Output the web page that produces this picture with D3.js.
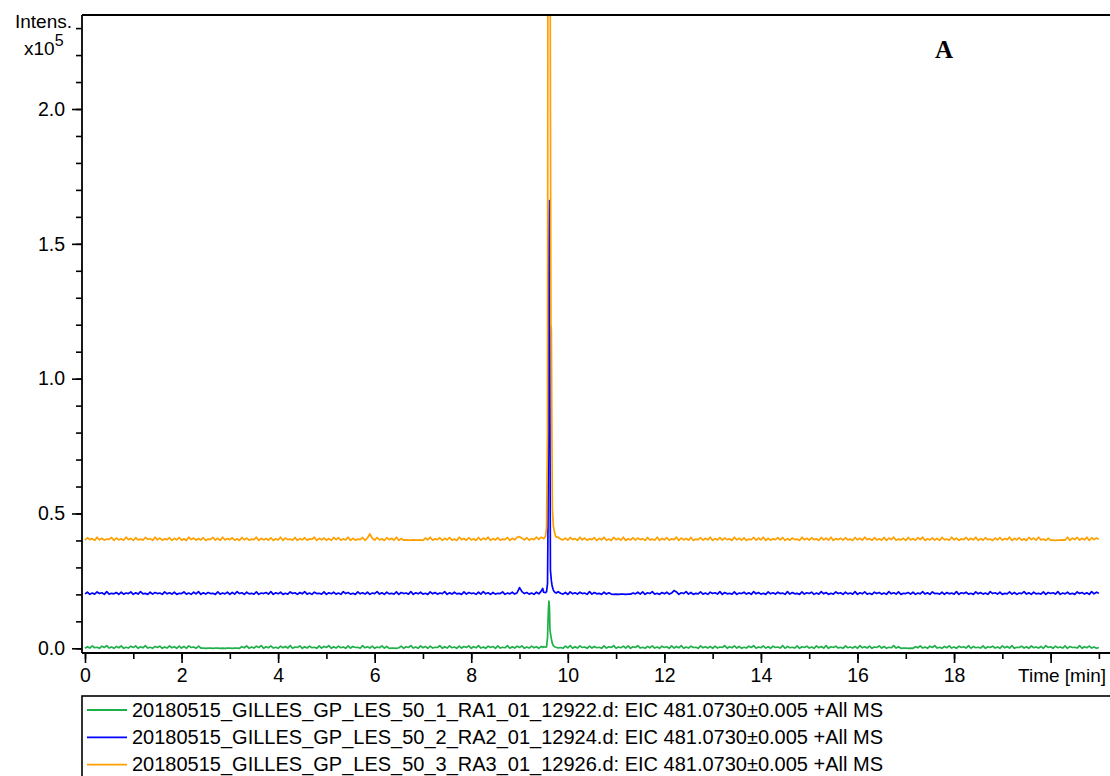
<!DOCTYPE html>
<html>
<head>
<meta charset="utf-8">
<script src="https://cdn.jsdelivr.net/npm/d3@7"></script>
<style>
  body { margin: 0; background: #fff; }
  text { font-family: "Liberation Sans", Arial, sans-serif; fill: #000; }
</style>
</head>
<body>
<svg id="chart" width="1110" height="776"></svg>
<script>
// trace labels / colours, same order as the legend
var traceNames = [
  '20180515_GILLES_GP_LES_50_1_RA1_01_12922.d: EIC 481.0730\u00b10.005 +All MS',
  '20180515_GILLES_GP_LES_50_2_RA2_01_12924.d: EIC 481.0730\u00b10.005 +All MS',
  '20180515_GILLES_GP_LES_50_3_RA3_01_12926.d: EIC 481.0730\u00b10.005 +All MS'
];
var traceColors = ['#1fb04a', '#0000ff', '#ffa000'];
var traceOffsets = [0, 0.2, 0.4];   // stacked display offset, x10^5

// baseline scans, one value per 0.05 min from 0.0 to 21.0 min (units: 100 counts)
// one row = one minute
var scanStart = 0, scanStep = 0.05;
var greenScan = [
  0,6,1,9,2,4,0,8,3,10,1,5,0,7,2,9,0,4,1,8,
  3,9,0,6,2,10,1,4,0,7,3,8,0,5,1,9,2,6,0,8,
  1,7,0,9,3,5,0,8,1,1,0,1,1,0,1,1,0,1,0,1,
  1,0,1,1,0,6,2,9,0,5,1,8,3,10,0,6,2,9,1,4,
  0,8,2,7,1,10,0,5,3,9,0,6,1,8,2,4,0,9,1,7,
  3,10,0,6,1,8,2,5,0,9,1,7,3,4,0,10,2,6,1,8,
  0,5,2,9,1,7,0,1,1,0,2,8,0,6,3,10,1,5,0,9,
  2,7,0,8,1,4,3,10,0,6,1,9,2,5,0,8,1,7,3,9,
  0,6,2,10,1,5,0,8,3,7,0,9,1,4,2,10,0,6,1,8,
  3,9,0,5,1,8,2,6,0,7,1,4,1,5,2,6,1,3,0,8,
  2,10,0,6,1,9,3,5,0,8,1,7,2,4,0,9,1,6,3,10,
  0,5,2,8,1,9,0,6,3,10,1,4,0,7,2,9,1,5,0,8,
  3,6,0,9,1,7,2,10,0,5,1,8,3,4,0,9,2,6,1,7,
  0,8,1,5,3,10,0,6,2,9,1,7,0,4,1,8,3,10,0,5,
  2,9,1,6,0,8,3,5,1,10,0,7,2,4,1,9,0,6,3,8,
  1,5,0,9,2,7,1,10,0,6,3,8,1,4,0,9,2,5,1,7,
  0,10,2,6,1,8,0,5,3,9,1,7,0,4,2,10,1,6,0,1,
  1,0,1,0,6,2,9,1,5,0,8,3,10,1,4,0,7,2,9,1,
  5,0,8,3,6,1,10,0,7,2,4,1,9,0,6,3,8,1,5,0,
  9,2,7,1,10,0,4,3,8,1,6,0,9,2,5,1,7,0,10,3,
  6,0,8,2,5,1,9,0,7,3,4,1,10,0,6,2,8,1,5,0,
  3
];
var blueScan = [
  2,8,0,5,1,9,3,6,0,10,1,4,2,7,0,8,1,5,3,9,
  0,6,1,10,2,4,0,8,1,7,3,5,0,9,2,6,1,8,0,4,
  3,9,1,5,0,8,2,10,0,6,1,7,3,4,0,9,1,5,2,8,
  0,7,1,10,3,6,0,8,2,4,1,9,0,5,3,7,1,10,0,6,
  2,8,0,4,1,9,3,6,0,7,2,10,1,5,0,8,3,4,1,9,
  0,6,2,8,1,5,0,10,3,7,1,4,0,9,2,6,1,8,0,5,
  3,10,1,6,0,8,2,4,1,9,0,7,3,5,1,10,0,6,2,8,
  1,4,0,9,2,7,1,5,3,10,0,6,1,8,2,4,0,9,1,7,
  3,5,0,8,1,10,2,6,0,7,1,4,3,9,0,5,2,8,1,6,
  25,10,3,7,1,5,0,8,2,12,6,5,5,5,5,5,10,4,1,7,
  0,9,2,6,1,8,3,5,0,10,1,7,2,4,0,8,1,6,1,0,
  1,0,1,1,0,1,1,5,2,8,1,9,0,6,3,10,1,4,0,7,
  2,8,1,5,14,9,0,6,3,10,1,7,0,4,2,9,1,5,0,8,
  3,6,1,10,0,7,2,4,1,9,0,5,3,8,1,6,0,10,2,7,
  1,4,0,9,2,6,1,8,3,5,0,10,1,7,2,4,0,9,1,6,
  3,8,0,5,1,10,2,7,0,4,1,9,3,6,0,8,2,5,1,10,
  0,6,2,9,1,4,0,8,3,7,1,5,0,10,2,6,1,9,0,4,
  3,7,1,8,0,5,2,10,1,6,0,9,3,4,1,8,0,7,2,5,
  1,10,0,6,3,8,1,4,0,9,2,7,1,5,0,10,3,6,1,8,
  0,4,2,9,1,7,0,5,3,10,1,6,0,8,2,4,1,9,0,7,
  3,6,1,10,0,5,2,8,1,4,0,9,3,7,1,6,0,10,2,8,
  4
];
var orangeScan = [
  1,10,3,7,0,12,2,8,1,5,4,11,0,9,2,6,1,12,3,8,
  0,10,2,5,1,11,4,7,0,12,2,9,1,6,3,10,0,8,2,11,
  1,6,0,12,3,9,1,7,2,10,0,5,4,11,1,8,0,12,2,7,
  3,10,1,6,0,11,2,9,1,5,3,12,0,8,2,7,1,10,0,6,
  2,12,0,9,3,5,1,11,0,7,2,10,1,6,4,12,0,8,2,9,
  1,7,0,11,3,10,1,6,2,12,0,8,1,5,3,11,0,9,24,8,
  1,11,2,6,0,10,3,8,1,12,0,7,1,2,1,1,2,1,1,2,
  0,9,2,12,1,6,3,10,0,8,2,11,1,5,0,12,3,7,1,10,
  2,6,0,11,1,9,3,12,0,7,2,10,1,5,3,11,0,8,2,12,
  14,8,2,10,1,7,3,12,4,12,8,8,8,8,8,8,12,5,2,9,
  1,11,3,7,0,12,2,9,1,6,3,10,0,8,2,12,1,5,0,11,
  3,8,1,12,0,6,2,10,1,9,3,7,0,11,2,5,1,12,0,8,
  2,10,1,6,3,12,0,9,2,7,1,11,0,5,3,10,1,8,2,12,
  0,7,2,11,1,9,3,6,0,12,2,8,1,10,0,5,3,11,1,9,
  2,12,0,8,1,6,3,10,2,11,0,7,1,9,3,5,0,12,2,8,
  1,10,3,6,0,11,2,9,1,12,0,7,3,8,1,10,2,5,0,11,
  2,8,1,12,3,7,0,10,2,6,1,11,0,9,3,12,1,5,2,8,
  0,11,2,7,1,10,3,12,0,6,2,9,1,8,0,11,3,5,1,12,
  2,9,0,6,3,11,1,8,2,12,0,7,1,10,3,5,0,9,2,11,
  1,7,3,12,0,8,2,10,1,6,0,11,3,9,1,12,2,5,0,8,
  1,1,0,1,1,2,1,12,0,9,3,11,1,8,2,12,0,10,3,9,
  4
];

// the peak near 9.6 min, finer scans (units: 100 counts)
var peakTimes  = [9.48,9.50,9.54,9.56,9.58,9.59,9.60,9.61,9.62,9.63,9.64,9.65,9.66,9.67,9.68,9.70,9.72,9.74,9.76];
var greenPeak  = [3,6,4,5,40,100,150,175,150,70,55,45,35,25,18,10,7,5,4];
var bluePeak   = [22,8,6,10,40,250,800,1300,1460,600,90,70,50,38,28,16,10,7,5];
var orangePeak = [10,7,15,50,400,2600,3000,3000,2900,2600,1600,800,780,400,120,55,35,20,12];

var xMajorTicks = [0, 2, 4, 6, 8, 10, 12, 14, 16, 18, 20];
var xMinorTicks = d3.range(0, 22, 1);
var yMajorTicks = [0, 0.5, 1.0, 1.5, 2.0];
var yMinorTicks = d3.range(0, 24).map(function(d){ return d / 10; });

(function(){
  var svg = d3.select('#chart');
  var plotLeft = 82, plotRight = 1110, plotTop = 15, plotBottom = 653;

  var x = d3.scaleLinear().domain([-0.062, 21.23]).range([plotLeft, plotRight]);
  var y = d3.scaleLinear().domain([-0.0174, 2.3486]).range([plotBottom, plotTop]);

  function buildTrace(scan, peak, offset) {
    var pts = [];
    scan.forEach(function(v, i) {
      var t = scanStart + i * scanStep;
      if (t < 9.46 || t > 9.77) pts.push([t, v / 1000 + offset]);
    });
    peakTimes.forEach(function(t, i) { pts.push([t, peak[i] / 1000 + offset]); });
    pts.sort(function(a, b) { return a[0] - b[0]; });
    return pts;
  }

  var traces = [
    buildTrace(greenScan, greenPeak, traceOffsets[0]),
    buildTrace(blueScan, bluePeak, traceOffsets[1]),
    buildTrace(orangeScan, orangePeak, traceOffsets[2])
  ];

  svg.append('clipPath').attr('id', 'plotClip')
    .append('rect').attr('x', plotLeft).attr('y', plotTop)
    .attr('width', plotRight - plotLeft).attr('height', plotBottom - plotTop);

  var line = d3.line().x(function(d){ return x(d[0]); }).y(function(d){ return y(d[1]); });

  svg.append('g').attr('clip-path', 'url(#plotClip)')
    .selectAll('path').data(traces).enter()
    .append('path')
    .attr('d', line)
    .attr('fill', 'none')
    .attr('stroke', function(d, i){ return traceColors[i]; })
    .attr('stroke-width', 1.7)
    .attr('stroke-linejoin', 'round');

  // top frame
  svg.append('line').attr('x1', plotLeft).attr('x2', plotRight).attr('y1', plotTop).attr('y2', plotTop)
    .attr('stroke', '#000').attr('stroke-width', 2);

  // y axis
  var yMinor = svg.append('g').attr('transform', 'translate(' + plotLeft + ',0)')
    .call(d3.axisLeft(y).tickValues(yMinorTicks).tickSize(6).tickFormat(''));
  var yMajor = svg.append('g').attr('transform', 'translate(' + plotLeft + ',0)')
    .call(d3.axisLeft(y).tickValues(yMajorTicks).tickSize(10).tickPadding(7).tickFormat(d3.format('.1f')));

  // x axis
  var xMinor = svg.append('g').attr('transform', 'translate(0,' + plotBottom + ')')
    .call(d3.axisBottom(x).tickValues(xMinorTicks).tickSize(6).tickFormat(''));
  var xMajor = svg.append('g').attr('transform', 'translate(0,' + plotBottom + ')')
    .call(d3.axisBottom(x).tickValues(xMajorTicks).tickSize(10).tickPadding(5)
      .tickFormat(function(d){ return d === 20 ? '' : d; }));

  [yMinor, yMajor, xMinor, xMajor].forEach(function(g) {
    g.selectAll('.domain').attr('stroke', '#000').attr('stroke-width', 1.8);
    g.selectAll('.tick line').attr('stroke', '#000').attr('stroke-width', 1.6);
    g.selectAll('text').style('font-size', '19.5px').attr('font-family', null);
  });
  yMajor.selectAll('.domain').attr('d', 'M0,' + plotTop + 'V' + plotBottom);
  xMajor.selectAll('.domain').attr('d', 'M' + plotLeft + ',0H' + plotRight);
  yMinor.select('.domain').remove();
  xMinor.select('.domain').remove();

  svg.append('text').attr('x', 72).attr('y', 28).attr('text-anchor', 'end')
    .style('font-size', '19px').text('Intens.');
  var unit = svg.append('text').attr('x', 24).attr('y', 55).style('font-size', '19px');
  unit.append('tspan').text('x10');
  unit.append('tspan').attr('dy', -9).style('font-size', '16px').text('5');

  svg.append('text').attr('x', 1106).attr('y', 682).attr('text-anchor', 'end')
    .style('font-size', '19px').text('Time [min]');

  svg.append('text').attr('x', 944).attr('y', 58).attr('text-anchor', 'middle')
    .style('font-family', '"Liberation Serif", "Times New Roman", serif')
    .style('font-weight', 'bold').style('font-size', '25px').text('A');

  // legend
  svg.append('rect').attr('x', 82).attr('y', 696).attr('width', 1040).attr('height', 100)
    .attr('fill', 'none').attr('stroke', '#000').attr('stroke-width', 1.6);

  var legendRow = svg.selectAll('.legend-row').data(traceNames).enter()
    .append('g').attr('class', 'legend-row')
    .attr('transform', function(d, i){ return 'translate(0,' + (710 + i * 27.3) + ')'; });
  legendRow.append('line').attr('x1', 87).attr('x2', 127).attr('y1', 0).attr('y2', 0)
    .attr('stroke', function(d, i){ return traceColors[i]; }).attr('stroke-width', 1.8);
  legendRow.append('text').attr('x', 132).attr('y', 6.5)
    .style('font-size', '20px').text(function(d){ return d; });
})();
</script>
</body>
</html>
